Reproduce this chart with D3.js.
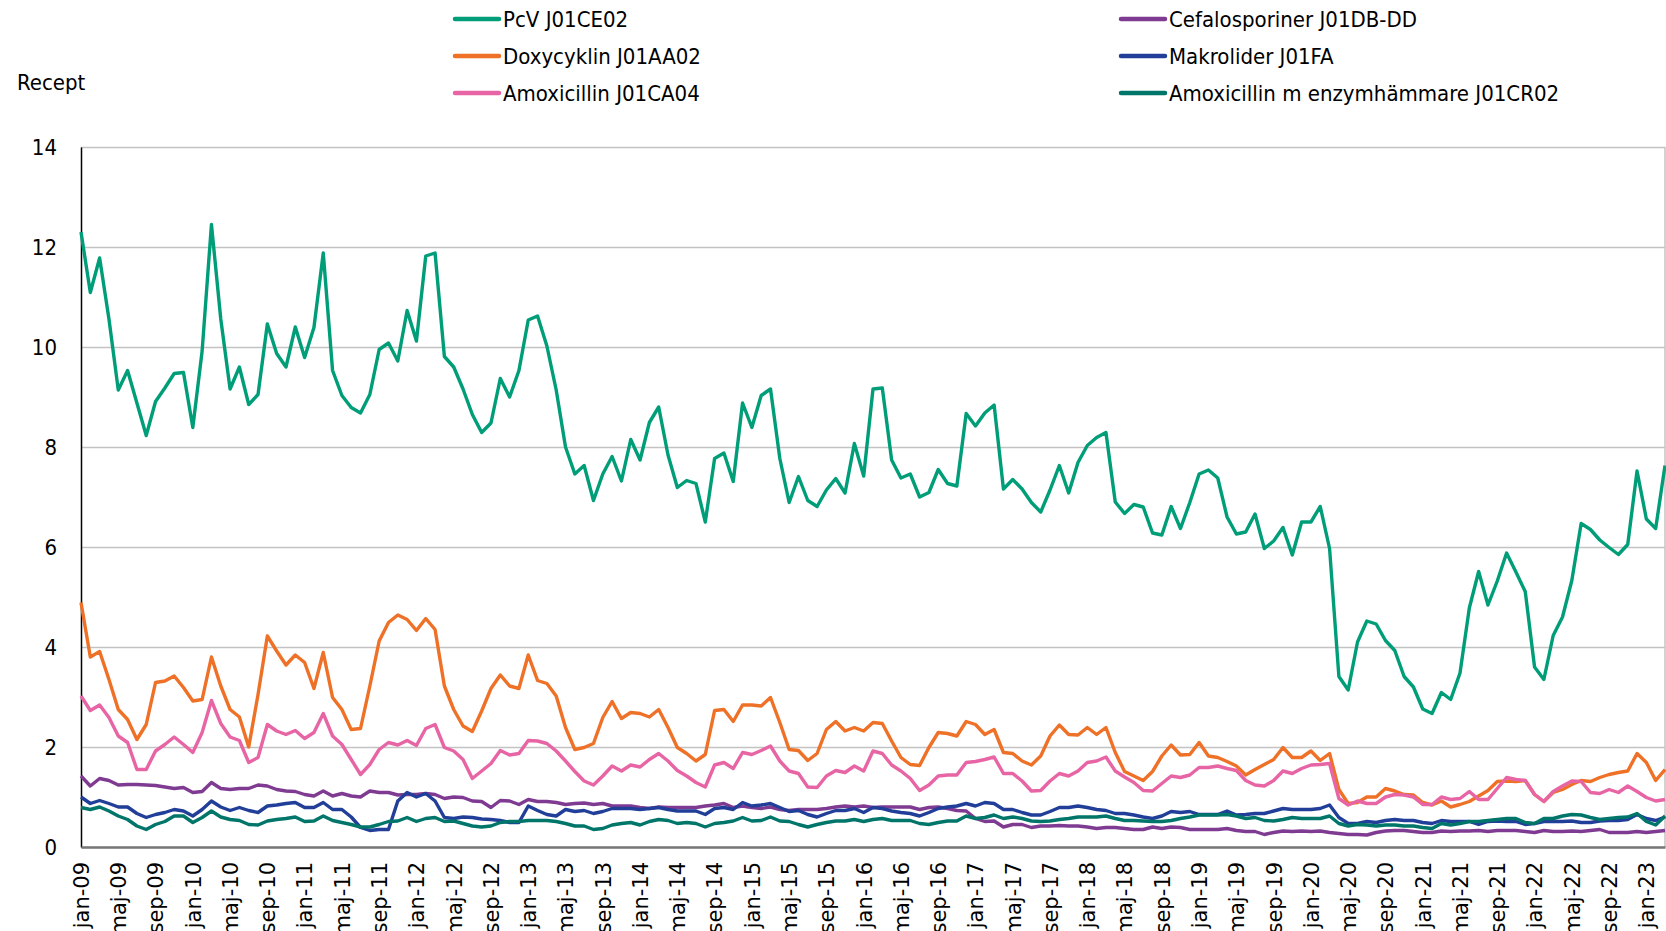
<!DOCTYPE html>
<html>
<head>
<meta charset="utf-8">
<script src="https://cdn.jsdelivr.net/npm/d3@7"></script>
<style>
  body { margin: 0; background: #fff; }
  .chart text { font-family: "DejaVu Sans Condensed", "DejaVu Sans", sans-serif; fill: #000; }
  .xaxis text { font-family: "DejaVu Sans", sans-serif; }
</style>
</head>
<body>
<div class="main"></div>
<script>
// monthly values jan-09 .. mar-23 (recept per 1000 inv.)
var pcv = [12.3, 11.09, 11.78, 10.56, 9.14, 9.53, 8.88, 8.23, 8.91, 9.18, 9.47, 9.49,
  8.39, 9.92, 12.45, 10.56, 9.16, 9.6, 8.85, 9.05, 10.46, 9.87, 9.6, 10.4,
  9.79, 10.39, 11.88, 9.53, 9.03, 8.79, 8.68, 9.05, 9.95, 10.08, 9.72, 10.73,
  10.12, 11.82, 11.88, 9.81, 9.6, 9.16, 8.65, 8.29, 8.48, 9.37, 9.0, 9.53,
  10.54, 10.62, 10.02, 9.14, 8.0, 7.46, 7.63, 6.93, 7.46, 7.81, 7.32, 8.15,
  7.74, 8.49, 8.8, 7.84, 7.19, 7.33, 7.27, 6.5, 7.77, 7.88, 7.31, 8.88,
  8.39, 9.03, 9.16, 7.77, 6.89, 7.41, 6.93, 6.81, 7.14, 7.37, 7.08, 8.07,
  7.42, 9.16, 9.18, 7.74, 7.38, 7.46, 7.0, 7.09, 7.55, 7.27, 7.22, 8.67,
  8.42, 8.68, 8.84, 7.16, 7.35, 7.16, 6.89, 6.7, 7.14, 7.63, 7.08, 7.69,
  8.03, 8.19, 8.29, 6.9, 6.67, 6.85, 6.8, 6.28, 6.24, 6.81, 6.37, 6.89,
  7.46, 7.54, 7.38, 6.6, 6.26, 6.3, 6.66, 5.97, 6.12, 6.39, 5.84, 6.5,
  6.5, 6.81, 5.97, 3.41, 3.14, 4.1, 4.52, 4.46, 4.13, 3.93, 3.41, 3.2,
  2.76, 2.67, 3.09, 2.95, 3.48, 4.78, 5.51, 4.84, 5.32, 5.88, 5.5, 5.11,
  3.6, 3.35, 4.23, 4.6, 5.33, 6.47, 6.35, 6.14, 5.99, 5.85, 6.05, 7.52,
  6.56, 6.37, 7.63];

var doxy = [4.89, 3.8, 3.91, 3.35, 2.75, 2.55, 2.15, 2.45, 3.29, 3.32, 3.42, 3.19,
  2.92, 2.95, 3.8, 3.22, 2.75, 2.6, 2.0, 3.05, 4.22, 3.92, 3.64, 3.84,
  3.69, 3.17, 3.89, 2.99, 2.75, 2.35, 2.37, 3.22, 4.12, 4.49, 4.64, 4.55,
  4.33, 4.57, 4.35, 3.22, 2.75, 2.42, 2.31, 2.72, 3.17, 3.44, 3.22, 3.17,
  3.84, 3.33, 3.27, 3.02, 2.39, 1.95, 1.99, 2.07, 2.59, 2.91, 2.57, 2.69,
  2.67, 2.6, 2.75, 2.39, 1.99, 1.87, 1.72, 1.85, 2.73, 2.75, 2.51, 2.84,
  2.84, 2.82, 2.99, 2.49, 1.95, 1.93, 1.73, 1.87, 2.35, 2.51, 2.32, 2.39,
  2.32, 2.49, 2.47, 2.12, 1.79, 1.65, 1.63, 1.99, 2.29, 2.27, 2.22, 2.51,
  2.45, 2.25, 2.35, 1.89, 1.87, 1.72, 1.64, 1.82, 2.22, 2.44, 2.25, 2.24,
  2.39, 2.25, 2.39, 1.89, 1.51, 1.42, 1.33, 1.51, 1.82, 2.04, 1.84, 1.85,
  2.09, 1.82, 1.79, 1.71, 1.62, 1.44, 1.55, 1.65, 1.75, 1.99, 1.79, 1.79,
  1.92, 1.73, 1.87, 1.15, 0.87, 0.89, 1.0, 1.0, 1.17, 1.12, 1.05, 1.04,
  0.89, 0.84, 0.92, 0.8, 0.85, 0.91, 1.02, 1.13, 1.31, 1.32, 1.31, 1.33,
  1.05, 0.91, 1.09, 1.15, 1.25, 1.33, 1.31, 1.39, 1.45, 1.49, 1.52, 1.87,
  1.69, 1.33, 1.55];

var amox = [3.02, 2.73, 2.84, 2.59, 2.22, 2.09, 1.55, 1.55, 1.92, 2.05, 2.2, 2.05,
  1.89, 2.29, 2.93, 2.47, 2.2, 2.13, 1.69, 1.79, 2.45, 2.32, 2.25, 2.33,
  2.17, 2.29, 2.67, 2.22, 2.05, 1.75, 1.45, 1.65, 1.95, 2.09, 2.04, 2.13,
  2.03, 2.37, 2.45, 1.99, 1.92, 1.75, 1.37, 1.52, 1.67, 1.93, 1.84, 1.87,
  2.13, 2.12, 2.07, 1.92, 1.72, 1.51, 1.32, 1.24, 1.42, 1.62, 1.52, 1.64,
  1.6, 1.75, 1.87, 1.72, 1.53, 1.42, 1.29, 1.2, 1.64, 1.69, 1.57, 1.89,
  1.85, 1.93, 2.02, 1.72, 1.52, 1.47, 1.2, 1.19, 1.42, 1.53, 1.49, 1.62,
  1.52, 1.92, 1.87, 1.64, 1.52, 1.37, 1.13, 1.24, 1.42, 1.44, 1.44, 1.69,
  1.71, 1.75, 1.8, 1.47, 1.47, 1.32, 1.12, 1.13, 1.32, 1.47, 1.42, 1.52,
  1.69, 1.72, 1.8, 1.52, 1.4, 1.29, 1.13, 1.12, 1.27, 1.42, 1.39, 1.44,
  1.59, 1.59, 1.62, 1.57, 1.53, 1.33, 1.24, 1.22, 1.33, 1.52, 1.47, 1.57,
  1.64, 1.65, 1.67, 0.97, 0.84, 0.92, 0.87, 0.87, 1.0, 1.05, 1.04, 1.0,
  0.85, 0.85, 1.0, 0.95, 0.97, 1.11, 0.95, 0.95, 1.17, 1.39, 1.35, 1.33,
  1.05, 0.91, 1.11, 1.22, 1.32, 1.31, 1.09, 1.07, 1.15, 1.09, 1.22, 1.11,
  0.99, 0.92, 0.95];

var cef = [1.42, 1.22, 1.37, 1.33, 1.24, 1.25, 1.25, 1.24, 1.23, 1.2, 1.17, 1.19,
  1.09, 1.11, 1.29, 1.17, 1.15, 1.17, 1.17, 1.24, 1.22, 1.15, 1.12, 1.11,
  1.05, 1.02, 1.12, 1.02, 1.07, 1.02, 1.0, 1.12, 1.09, 1.09, 1.04, 1.05,
  1.05, 1.07, 1.05, 0.97, 1.0, 0.99, 0.92, 0.91, 0.79, 0.93, 0.92, 0.85,
  0.95, 0.91, 0.91, 0.89, 0.85, 0.87, 0.88, 0.85, 0.87, 0.82, 0.82, 0.82,
  0.79, 0.77, 0.8, 0.79, 0.79, 0.79, 0.79, 0.82, 0.84, 0.87, 0.79, 0.82,
  0.79, 0.77, 0.8, 0.75, 0.73, 0.75, 0.75, 0.75, 0.77, 0.8, 0.82, 0.8,
  0.82, 0.79, 0.8, 0.8, 0.8, 0.8, 0.75, 0.79, 0.8, 0.77, 0.73, 0.72,
  0.57, 0.51, 0.52, 0.4, 0.45, 0.45, 0.39, 0.42, 0.42, 0.43, 0.42, 0.42,
  0.4, 0.37, 0.39, 0.39, 0.37, 0.35, 0.35, 0.4, 0.37, 0.4, 0.39, 0.35,
  0.35, 0.35, 0.35, 0.37, 0.33, 0.31, 0.31, 0.25, 0.29, 0.32, 0.31, 0.32,
  0.31, 0.32, 0.29, 0.27, 0.25, 0.25, 0.24, 0.29, 0.32, 0.33, 0.33, 0.31,
  0.29, 0.29, 0.32, 0.31, 0.32, 0.32, 0.33, 0.31, 0.33, 0.33, 0.33, 0.31,
  0.29, 0.33, 0.31, 0.31, 0.32, 0.31, 0.33, 0.35, 0.29, 0.29, 0.29, 0.31,
  0.29, 0.31, 0.33];

var makro = [1.0, 0.87, 0.93, 0.87, 0.8, 0.8, 0.67, 0.59, 0.65, 0.69, 0.75, 0.72,
  0.62, 0.75, 0.92, 0.8, 0.73, 0.79, 0.73, 0.69, 0.82, 0.84, 0.87, 0.89,
  0.79, 0.79, 0.89, 0.75, 0.75, 0.6, 0.39, 0.33, 0.35, 0.35, 0.92, 1.09,
  1.0, 1.07, 0.92, 0.59, 0.57, 0.6, 0.59, 0.56, 0.55, 0.53, 0.49, 0.49,
  0.82, 0.73, 0.65, 0.62, 0.75, 0.71, 0.73, 0.67, 0.71, 0.77, 0.77, 0.77,
  0.75, 0.77, 0.79, 0.75, 0.72, 0.72, 0.72, 0.65, 0.77, 0.79, 0.75, 0.89,
  0.82, 0.84, 0.87, 0.79, 0.71, 0.73, 0.65, 0.6, 0.67, 0.73, 0.73, 0.77,
  0.69, 0.79, 0.77, 0.72, 0.69, 0.67, 0.62, 0.69, 0.77, 0.8, 0.82, 0.87,
  0.82, 0.89, 0.87, 0.75, 0.75, 0.69, 0.64, 0.64, 0.71, 0.79, 0.79, 0.82,
  0.79, 0.75, 0.73, 0.67, 0.67, 0.64, 0.6, 0.57, 0.62, 0.71, 0.69, 0.71,
  0.65, 0.65, 0.65, 0.72, 0.64, 0.65, 0.67, 0.67, 0.72, 0.77, 0.75, 0.75,
  0.75, 0.77, 0.84, 0.59, 0.47, 0.47, 0.51, 0.49, 0.53, 0.55, 0.53, 0.53,
  0.49, 0.47, 0.53, 0.51, 0.51, 0.51, 0.45, 0.51, 0.52, 0.51, 0.51, 0.45,
  0.47, 0.51, 0.51, 0.51, 0.52, 0.49, 0.49, 0.52, 0.53, 0.53, 0.55, 0.65,
  0.57, 0.53, 0.6];

var amoxEnz = [0.79, 0.75, 0.8, 0.72, 0.62, 0.55, 0.42, 0.35, 0.45, 0.51, 0.62, 0.62,
  0.49, 0.59, 0.72, 0.6, 0.55, 0.53, 0.45, 0.44, 0.52, 0.55, 0.57, 0.6,
  0.51, 0.52, 0.62, 0.53, 0.49, 0.45, 0.4, 0.4, 0.45, 0.51, 0.52, 0.59,
  0.51, 0.57, 0.59, 0.51, 0.52, 0.47, 0.42, 0.4, 0.42, 0.49, 0.51, 0.51,
  0.53, 0.53, 0.53, 0.51, 0.47, 0.42, 0.42, 0.35, 0.37, 0.44, 0.47, 0.49,
  0.44, 0.51, 0.55, 0.53, 0.47, 0.49, 0.47, 0.4, 0.47, 0.49, 0.52, 0.59,
  0.52, 0.53, 0.6, 0.52, 0.51, 0.45, 0.4, 0.45, 0.49, 0.52, 0.52, 0.55,
  0.51, 0.55, 0.57, 0.53, 0.53, 0.53, 0.47, 0.45, 0.49, 0.52, 0.52, 0.62,
  0.57, 0.59, 0.64, 0.57, 0.6, 0.57, 0.52, 0.51, 0.52, 0.55, 0.57, 0.6,
  0.6, 0.6, 0.62, 0.57, 0.53, 0.53, 0.52, 0.51, 0.51, 0.53, 0.57, 0.6,
  0.64, 0.64, 0.64, 0.65, 0.62, 0.57, 0.59, 0.53, 0.52, 0.55, 0.59, 0.57,
  0.57, 0.57, 0.62, 0.47, 0.42, 0.45, 0.44, 0.42, 0.44, 0.44, 0.42, 0.42,
  0.39, 0.37, 0.47, 0.44, 0.47, 0.51, 0.51, 0.53, 0.55, 0.57, 0.57, 0.49,
  0.47, 0.57, 0.57, 0.62, 0.65, 0.64, 0.59, 0.55, 0.57, 0.59, 0.6, 0.67,
  0.51, 0.44, 0.62];

var tickLabels = ["jan-09", "maj-09", "sep-09", "jan-10", "maj-10", "sep-10", "jan-11", "maj-11", "sep-11",
  "jan-12", "maj-12", "sep-12", "jan-13", "maj-13", "sep-13", "jan-14", "maj-14", "sep-14",
  "jan-15", "maj-15", "sep-15", "jan-16", "maj-16", "sep-16", "jan-17", "maj-17", "sep-17",
  "jan-18", "maj-18", "sep-18", "jan-19", "maj-19", "sep-19", "jan-20", "maj-20", "sep-20",
  "jan-21", "maj-21", "sep-21", "jan-22", "maj-22", "sep-22", "jan-23"];

var yTicks = [0, 2, 4, 6, 8, 10, 12, 14];

var series = [
  { name: "PcV J01CE02", values: pcv, color: "#009e78" },
  { name: "Doxycyklin J01AA02", values: doxy, color: "#ee7127" },
  { name: "Amoxicillin J01CA04", values: amox, color: "#e765a4" },
  { name: "Cefalosporiner J01DB-DD", values: cef, color: "#7f3a92" },
  { name: "Makrolider J01FA", values: makro, color: "#213e98" },
  { name: "Amoxicillin m enzymhämmare J01CR02", values: amoxEnz, color: "#00756a" }
];

var width = 1666;
var height = 931;
var plotLeft = 81, plotRight = 1665, plotTop = 147, plotBottom = 847;

var svg = d3.select(".main")
  .append("svg")
    .attr("width", width)
    .attr("height", height)
    .attr("class", "chart");

var xScale = d3.scaleLinear()
  .domain([0, pcv.length - 1])
  .range([plotLeft, plotRight]);

var yScale = d3.scaleLinear()
  .domain([0, 14])
  .range([plotBottom, plotTop]);

// gridlines
var grid = svg.append("g")
  .attr("transform", "translate(" + plotLeft + ",0)")
  .call(d3.axisLeft(yScale).tickValues(yTicks).tickSize(-(plotRight - plotLeft)).tickFormat(""));
grid.select(".domain").remove();
grid.selectAll("line").attr("stroke", "#c3c3c3").attr("stroke-width", 1.5);

// right border
svg.append("line")
  .attr("x1", plotRight).attr("x2", plotRight)
  .attr("y1", plotTop).attr("y2", plotBottom)
  .attr("stroke", "#c3c3c3").attr("stroke-width", 1.5);

// y axis
var yAxis = svg.append("g")
  .attr("transform", "translate(" + plotLeft + ",0)")
  .call(d3.axisLeft(yScale).tickValues(yTicks).tickSize(0).tickPadding(24));
yAxis.select(".domain").attr("stroke", "#000").attr("stroke-width", 1.5);
yAxis.selectAll("text").style("font-size", "22px");

// x axis
var xAxis = svg.append("g")
  .attr("class", "xaxis")
  .attr("transform", "translate(0," + plotBottom + ")")
  .call(d3.axisBottom(xScale)
    .tickValues(d3.range(0, pcv.length, 4))
    .tickSize(0)
    .tickFormat((d, i) => tickLabels[i]));
xAxis.select(".domain").attr("stroke", "#777").attr("stroke-width", 2.5);
xAxis.selectAll("text")
  .style("font-size", "21px")
  .attr("text-anchor", "end")
  .attr("transform", "rotate(-90)")
  .attr("x", -15)
  .attr("y", 0)
  .attr("dy", "0.35em");

// lines
var line = d3.line()
  .x((d, i) => xScale(i))
  .y(d => yScale(d));

svg.selectAll(".series")
  .data(series)
  .enter()
  .append("path")
    .attr("class", "series")
    .attr("d", d => line(d.values))
    .attr("fill", "none")
    .attr("stroke", d => d.color)
    .attr("stroke-width", 3.4)
    .attr("stroke-linejoin", "round");

// y title
svg.append("text")
  .attr("x", 17)
  .attr("y", 82)
  .attr("dy", "0.35em")
  .style("font-size", "22px")
  .text("Recept");

// legend: two columns
var legend = svg.selectAll(".legend")
  .data(series)
  .enter()
  .append("g")
    .attr("class", "legend")
    .attr("transform", (d, i) => "translate(" + (i < 3 ? 455 : 1121) + "," + (19 + (i % 3) * 37) + ")");

legend.append("line")
  .attr("x1", 0).attr("x2", 44)
  .attr("stroke", d => d.color)
  .attr("stroke-width", 4.5)
  .attr("stroke-linecap", "round");

legend.append("text")
  .attr("x", 48)
  .attr("dy", "0.35em")
  .style("font-size", "22px")
  .text(d => d.name);
</script>
</body>
</html>
